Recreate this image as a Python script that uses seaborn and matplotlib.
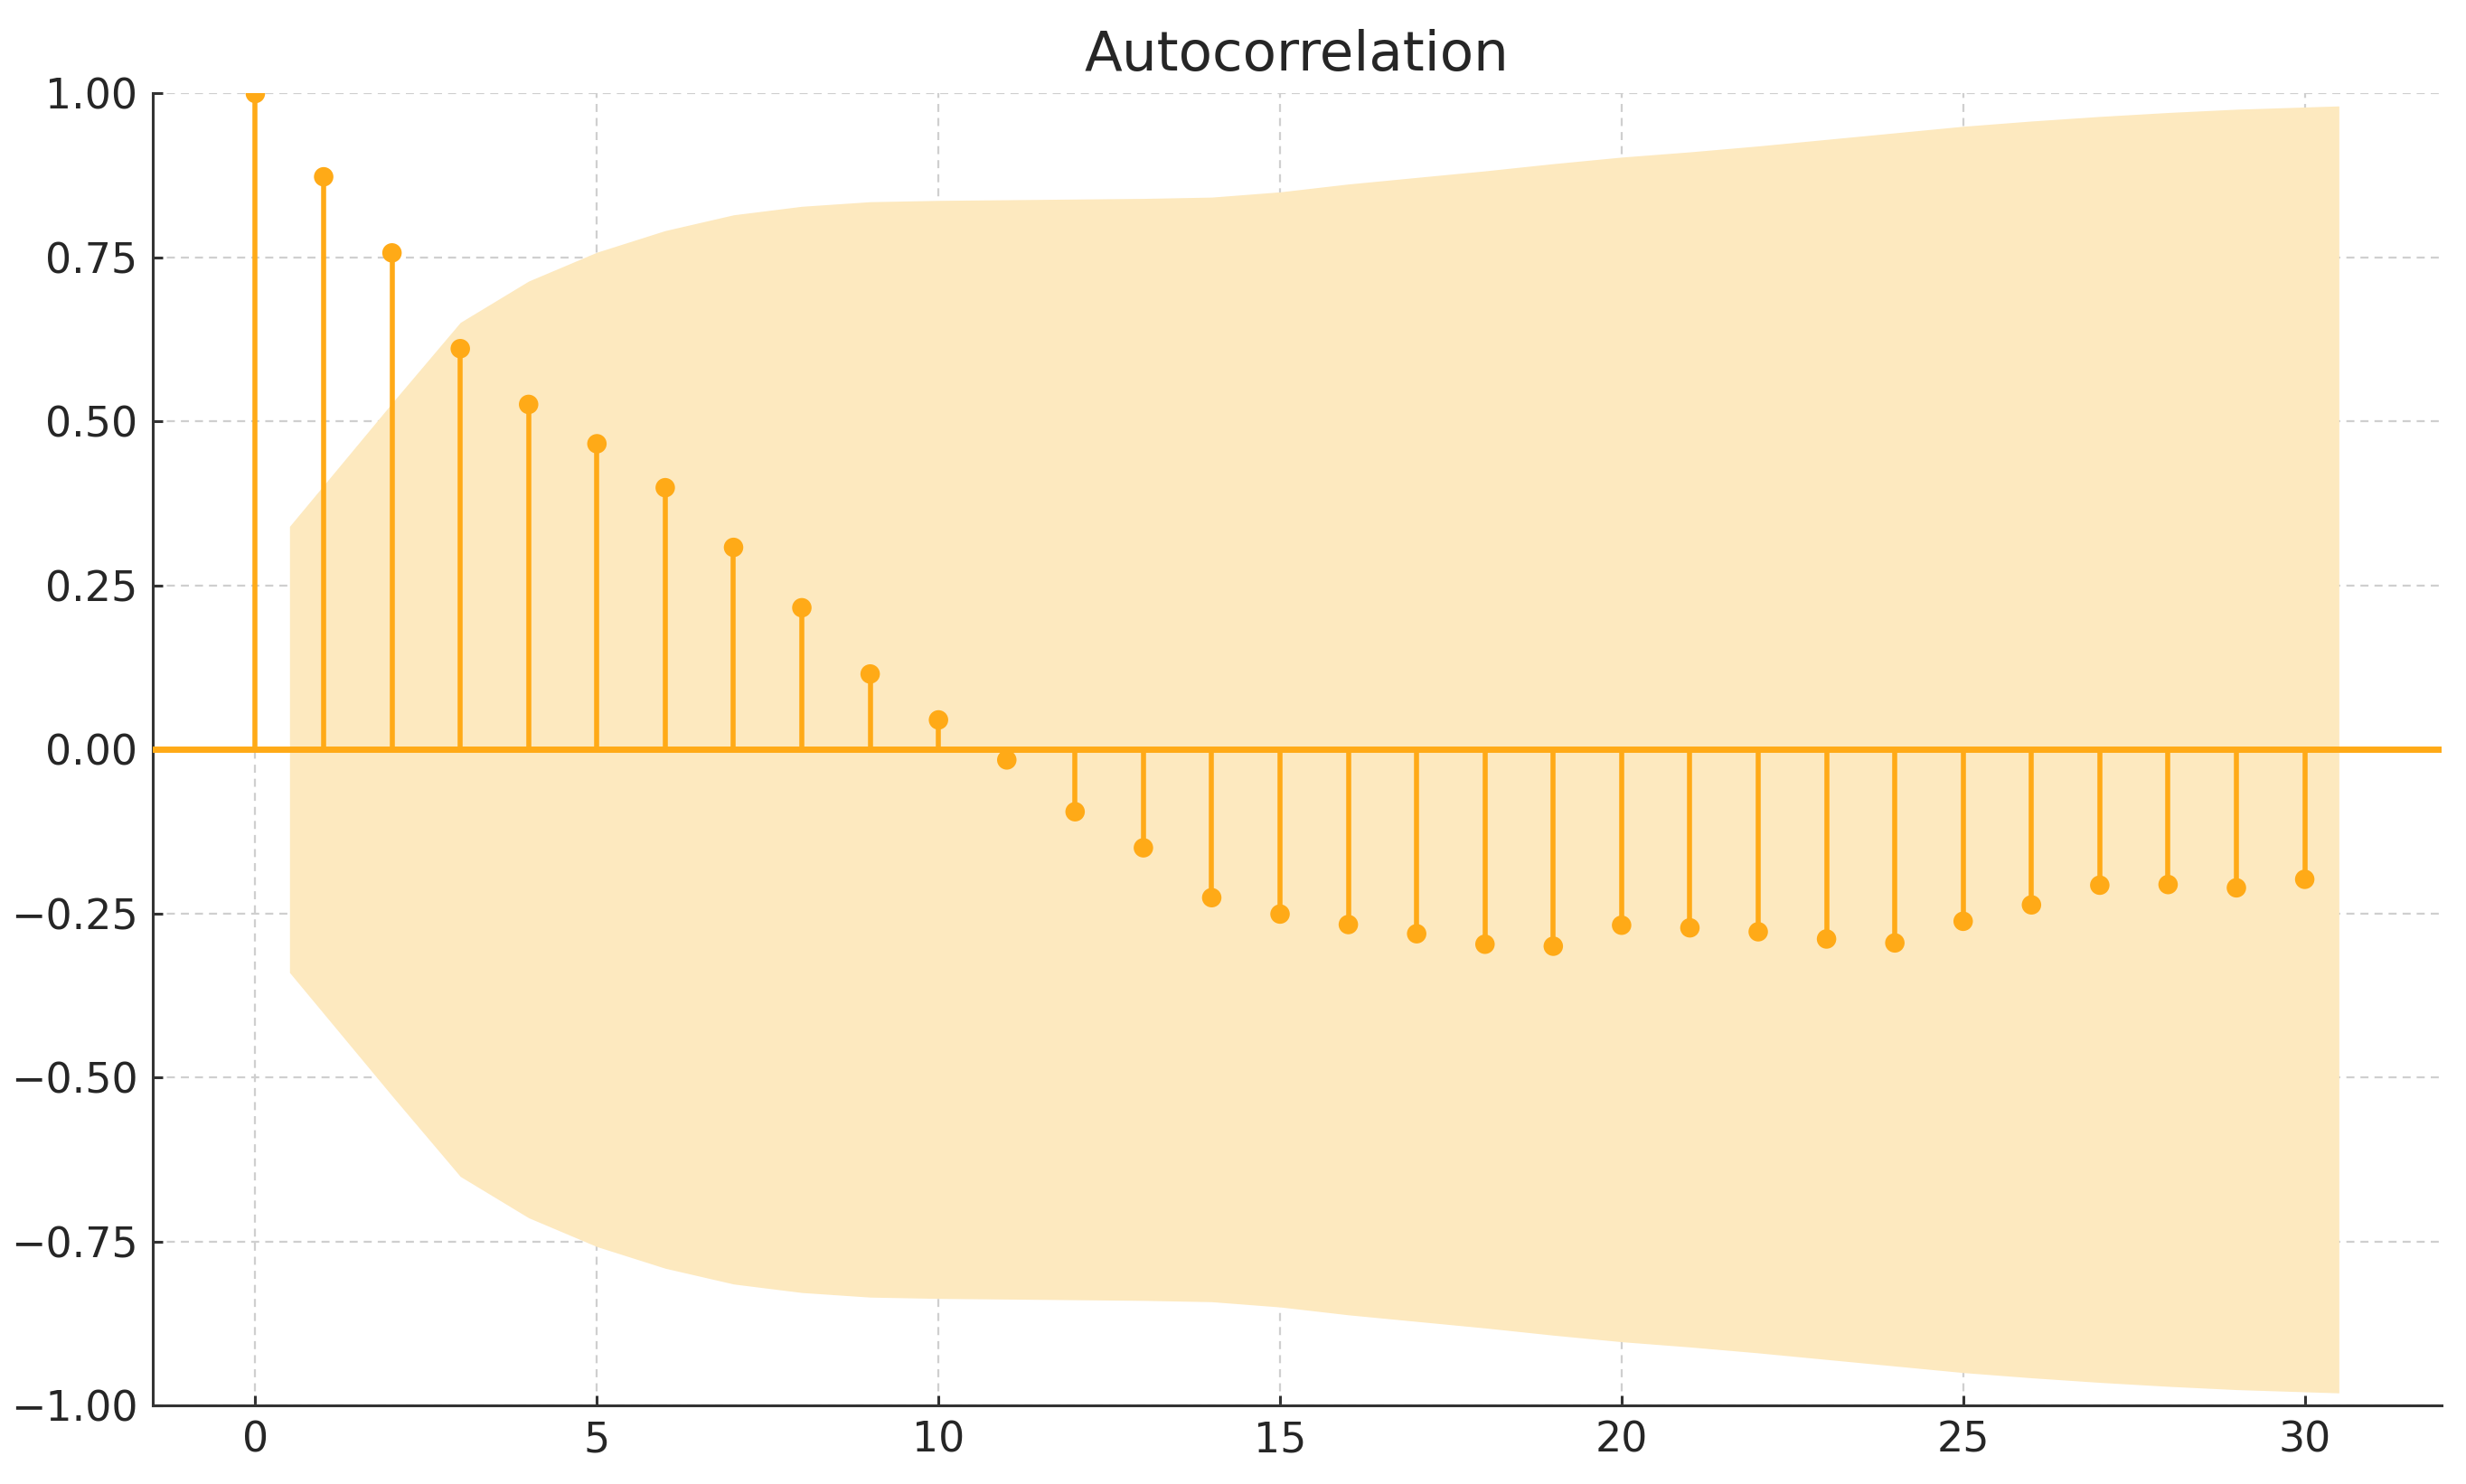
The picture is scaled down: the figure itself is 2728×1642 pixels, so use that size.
import numpy as np
import pandas as pd
import seaborn as sns
import matplotlib
matplotlib.use("Agg")
import matplotlib.pyplot as plt

# values
lags = list(range(0, 31))
acf_vals = [1.000, 0.873, 0.757, 0.611, 0.526, 0.466, 0.399, 0.308, 0.216, 0.115,
            0.045, -0.016, -0.095, -0.150, -0.226, -0.251, -0.267, -0.281, -0.297, -0.300,
            -0.268, -0.272, -0.278, -0.289, -0.295, -0.262, -0.237, -0.207, -0.206, -0.211,
            -0.198]
# upper edge of the confidence band, for lags 1..30 (band is symmetric)
band_lags = list(range(1, 31))
band_upper = [0.340, 0.528, 0.651, 0.714, 0.758, 0.791, 0.815, 0.828, 0.835, 0.837,
              0.838, 0.839, 0.840, 0.842, 0.850, 0.862, 0.872, 0.882, 0.893, 0.903,
              0.911, 0.920, 0.930, 0.940, 0.950, 0.958, 0.965, 0.971, 0.976, 0.981]

df = pd.DataFrame({"lag": lags, "acf": acf_vals})

sns.set_theme(style="ticks")
plt.rcParams['font.family'] = ['DejaVu Sans']

stem_col = "#FFAA17"
band_col = "#FDE9BF"

fig = plt.figure(figsize=(13.64, 8.21), dpi=200)
ax = fig.add_axes([0.062, 0.053, 0.928, 0.884])

# band drawn like statsmodels: first/last x nudged by half a lag
bx = np.array(band_lags, dtype=float)
bx[0] -= 0.5
bx[-1] += 0.5
bu = np.array(band_upper)
ax.fill_between(bx, -bu, bu, color=band_col, linewidth=0, zorder=1)

ax.axhline(0, color=stem_col, linewidth=2.5, zorder=3)
ax.vlines(df["lag"], 0, df["acf"], color=stem_col, linewidth=2.0, zorder=3)
sns.scatterplot(data=df, x="lag", y="acf", color=stem_col, s=60, edgecolor="none",
                zorder=4, ax=ax, clip_on=True)

ax.set_xlim(-1.5, 32.0)
ax.set_ylim(-1.0, 1.0)
ax.set_xticks([0, 5, 10, 15, 20, 25, 30])
ax.set_yticks([-1.0, -0.75, -0.5, -0.25, 0.0, 0.25, 0.5, 0.75, 1.0])
ax.set_yticklabels([f"{v:.2f}".replace("-", "\u2212") for v in ax.get_yticks()])
ax.set_xlabel("")
ax.set_ylabel("")

ax.grid(True, linestyle=(0, (4, 3)), color="#cfcfcf", linewidth=0.8, zorder=0)
ax.set_axisbelow(True)
sns.despine(ax=ax)
for s in ["left", "bottom"]:
    ax.spines[s].set_color("#333333")
    ax.spines[s].set_linewidth(1.1)
ax.tick_params(direction="in", length=4, width=1.1, color="#333333",
               labelsize=16.5, labelcolor="#262626", pad=6)

ax.set_title("Autocorrelation", fontsize=22, color="#262626", pad=9)

fig.savefig("out.png", dpi=200)
